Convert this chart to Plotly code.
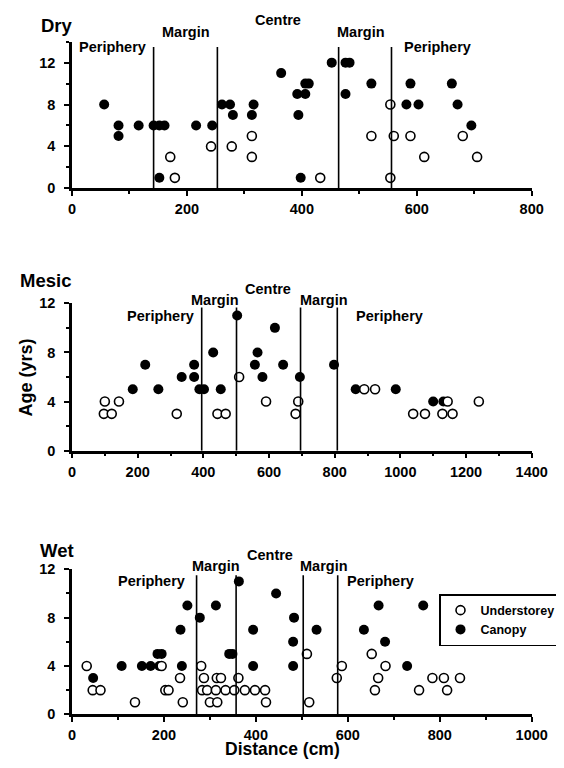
import plotly.graph_objects as go

# ---------------- data ----------------
dry_under_x = [171, 179, 242, 278, 313, 313, 432, 554, 554, 521, 560, 589, 680, 613, 705]
dry_under_y = [3, 1, 4, 4, 5, 3, 1, 8, 1, 5, 5, 5, 5, 3, 3]
dry_can_x = [56, 81, 81, 116, 142, 152, 161, 152, 216, 244, 261, 275, 280, 316, 313, 364,
             392, 406, 406, 412, 394, 398, 452, 476, 483, 476, 521, 589, 661, 582, 603, 671, 695]
dry_can_y = [8, 6, 5, 6, 6, 6, 6, 1, 6, 6, 8, 8, 7, 8, 7, 11,
             9, 9, 10, 10, 7, 1, 12, 12, 12, 9, 10, 10, 10, 8, 8, 8, 6]

mesic_under_x = [100, 97, 121, 143, 319, 443, 468, 509, 591, 689, 681, 890, 923, 1144, 1239,
                 1039, 1075, 1128, 1159]
mesic_under_y = [4, 3, 3, 4, 3, 3, 3, 6, 4, 4, 3, 5, 5, 4, 4, 3, 3, 3, 3]
mesic_can_x = [185, 223, 263, 334, 372, 372, 388, 402, 430, 453, 503, 557, 565, 580, 618, 643,
               694, 798, 864, 986, 1100, 1131]
mesic_can_y = [5, 7, 5, 6, 7, 6, 5, 5, 8, 5, 11, 7, 8, 6, 10, 7, 6, 7, 5, 5, 4, 4]

wet_under_x = [32, 45, 62, 137, 195, 203, 210, 235, 241, 281, 287, 283, 294, 313, 315, 324, 300,
               316, 334, 353, 362, 376, 398, 420, 422, 511, 516, 587, 576, 652, 666, 659, 682,
               755, 784, 809, 844, 816]
wet_under_y = [4, 2, 2, 1, 4, 2, 2, 3, 1, 4, 3, 2, 2, 2, 3, 3, 1,
               1, 2, 2, 3, 2, 2, 2, 1, 5, 1, 4, 3, 5, 3, 2, 4,
               2, 3, 3, 3, 2]
wet_can_x = [46, 108, 152, 171, 190, 186, 195, 239, 236, 251, 278, 313, 342, 349, 363, 394, 394,
             444, 483, 481, 481, 532, 635, 667, 681, 764, 729]
wet_can_y = [3, 4, 4, 4, 4, 5, 5, 4, 7, 9, 8, 9, 5, 5, 11, 7, 4,
             10, 8, 6, 4, 7, 7, 9, 6, 9, 4]

region_names = ["Periphery", "Margin", "Centre", "Margin", "Periphery"]
dry_bounds = [142, 253, 464, 556]
mesic_bounds = [395, 501, 696, 808]
wet_bounds = [271, 357, 503, 578]

panel_names = ["Dry", "Mesic", "Wet"]
x_max = [800, 1400, 1000]
y_max = [14, 12, 12]
y_ticks = [0, 4, 8, 12]

# ---------------- layout helpers ----------------
PAGE_W, PAGE_H = 564, 768
BODY = 8  # default page margin around the figure
W, H = PAGE_W - 2 * BODY, PAGE_H - 2 * BODY
FONT = "Liberation Sans"

def px(x):
    return (x - BODY) / W

def py(y):
    return (H - (y - BODY)) / H

# page-pixel extents of the three plot areas (top, bottom)
areas = [(41.7, 188.3), (303.3, 450.7), (569.3, 714.3)]
x_left, x_right = 72, 531.7

def data_y_to_paper(i, v):
    top, bot = areas[i]
    return py(bot - v / y_max[i] * (bot - top))

fig = go.Figure()

series = [
    (dry_under_x, dry_under_y, dry_can_x, dry_can_y),
    (mesic_under_x, mesic_under_y, mesic_can_x, mesic_can_y),
    (wet_under_x, wet_under_y, wet_can_x, wet_can_y),
]

for i, (ux, uy, cx, cy) in enumerate(series):
    xa = "x" if i == 0 else f"x{i+1}"
    ya = "y" if i == 0 else f"y{i+1}"
    show = (i == 2)
    fig.add_trace(go.Scatter(
        x=cx, y=cy, mode="markers", name="Canopy", xaxis=xa, yaxis=ya,
        showlegend=show, cliponaxis=False,
        marker=dict(symbol="circle", size=10, color="black", line=dict(width=0))))
    fig.add_trace(go.Scatter(
        x=ux, y=uy, mode="markers", name="Understorey", xaxis=xa, yaxis=ya,
        showlegend=show, cliponaxis=False,
        marker=dict(symbol="circle", size=9, color="white", line=dict(width=1.6, color="black"))))

axis_common = dict(
    showline=True, linecolor="black", linewidth=2.5, mirror=False, automargin=False,
    showgrid=False, zeroline=False, ticks="outside", ticklen=5, tickwidth=2,
    tickcolor="black",
    tickfont=dict(family=FONT, size=14.5, color="black", weight="bold"),
)

layout = dict(
    width=W, height=H, margin=dict(l=0, r=0, t=0, b=0, autoexpand=False),
    paper_bgcolor="white", plot_bgcolor="white", showlegend=True,
    legend=dict(x=px(561), y=py(594), xanchor="right", yanchor="top",
                bgcolor="white", bordercolor="black", borderwidth=1.5,
                traceorder="reversed", itemwidth=30, tracegroupgap=0,
                font=dict(family=FONT, size=12.5, color="black", weight="bold")),
)

for i in range(3):
    top, bot = areas[i]
    xk = "xaxis" if i == 0 else f"xaxis{i+1}"
    yk = "yaxis" if i == 0 else f"yaxis{i+1}"
    ya_ref = "y" if i == 0 else f"y{i+1}"
    xa_ref = "x" if i == 0 else f"x{i+1}"
    layout[xk] = dict(axis_common, domain=[px(x_left), px(x_right)], range=[0, x_max[i]],
                      anchor=ya_ref, tick0=0, dtick=200, ticklabelstandoff=1,
                      minor=dict(ticks="outside", ticklen=3, tickwidth=1.5, tickcolor="black",
                                 dtick=100, tick0=0))
    layout[yk] = dict(axis_common, domain=[py(bot), py(top)], range=[0, y_max[i]],
                      anchor=xa_ref, tickvals=y_ticks, ticklabelstandoff=6,
                      minor=dict(ticks="outside", ticklen=3, tickwidth=1.5, tickcolor="black",
                                 dtick=2, tick0=0))

fig.update_layout(**layout)

# boundary lines
bounds = [dry_bounds, mesic_bounds, wet_bounds]
line_tops = [13.5, 11.65, 11.5]
for i, b in enumerate(bounds):
    xa_ref = "x" if i == 0 else f"x{i+1}"
    ya_ref = "y" if i == 0 else f"y{i+1}"
    for xb in b:
        fig.add_shape(type="line", xref=xa_ref, yref=ya_ref, x0=xb, x1=xb, y0=0, y1=line_tops[i],
                      line=dict(color="black", width=1.6))

# region labels (x in data coords, y as data value converted to paper)
label_pos = [
    ([70, 199, 359, 503, 636], [13.45, 14.95, 16.05, 14.95, 13.45]),
    ([271, 437, 598, 766, 967], [11.0, 12.3, 13.15, 12.3, 11.0]),
    ([173, 313, 430, 548, 672], [11.0, 12.25, 13.15, 12.25, 11.0]),
]
for i, (lx, ly) in enumerate(label_pos):
    xa_ref = "x" if i == 0 else f"x{i+1}"
    for name, xx, yy in zip(region_names, lx, ly):
        fig.add_annotation(x=xx, y=data_y_to_paper(i, yy), xref=xa_ref, yref="paper",
                           text=name, showarrow=False,
                           xanchor="center", yanchor="middle",
                           font=dict(family=FONT, size=14.5, color="black", weight="bold"))

# panel titles
title_pos = [(39, 25), (18, 280), (38, 550)]
for name, (tx, ty) in zip(panel_names, title_pos):
    fig.add_annotation(x=px(tx), y=py(ty), xref="paper", yref="paper", text=name,
                       showarrow=False, xanchor="left", yanchor="middle",
                       font=dict(family=FONT, size=18.5, color="black", weight="bold"))

# axis titles
fig.add_annotation(x=px(25), y=py(377.5), xref="paper", yref="paper", text="Age (yrs)",
                   showarrow=False, textangle=-90, xanchor="center", yanchor="middle",
                   font=dict(family=FONT, size=18, color="black", weight="bold"))
fig.add_annotation(x=px(282), y=py(760), xref="paper", yref="paper", text="Distance (cm)",
                   showarrow=False, xanchor="center", yanchor="bottom", borderpad=0,
                   font=dict(family=FONT, size=17.5, color="black", weight="bold"))

fig.write_html("out.html")
